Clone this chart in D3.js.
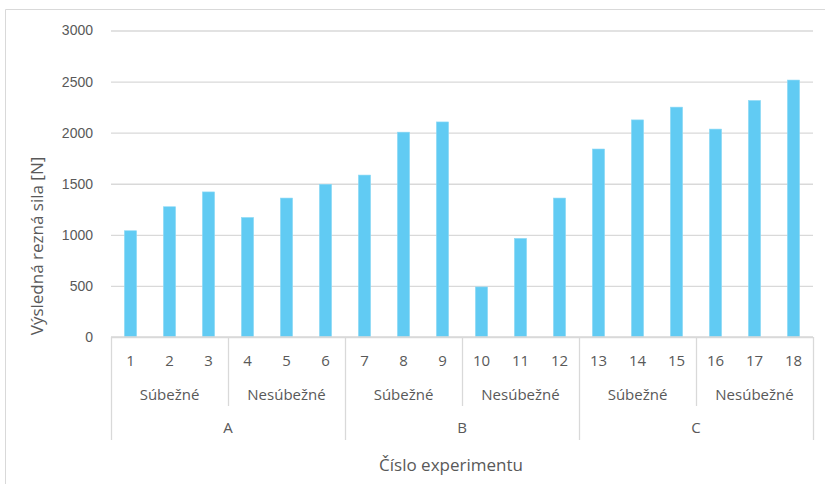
<!DOCTYPE html>
<html>
<head>
<meta charset="utf-8">
<script src="https://cdn.jsdelivr.net/npm/d3@7"></script>
<style>
  html, body { margin: 0; padding: 0; background: #fff; }
  svg { display: block; }
  .lbl { font-family: "Open Sans", "Noto Sans", sans-serif; fill: #595959; }
</style>
</head>
<body>
<svg id="chart" width="825" height="484"></svg>
<script>
// Experiment numbers, force values and the two grouping levels of the x axis
const categories = ["1","2","3","4","5","6","7","8","9","10","11","12","13","14","15","16","17","18"];
const values = [1040, 1275, 1420, 1170, 1360, 1495, 1585, 2005, 2105, 490, 965, 1360, 1840, 2125, 2250, 2035, 2315, 2515];
const subgroups = ["Súbežné", "Nesúbežné", "Súbežné", "Nesúbežné", "Súbežné", "Nesúbežné"];
const groups = ["A", "B", "C"];
const yTicks = [0, 500, 1000, 1500, 2000, 2500, 3000];
const yTitle = "Výsledná rezná sila [N]";
const xTitle = "Číslo experimentu";

const svg = d3.select("#chart");
const W = 825, H = 484;
const plot = { left: 111, right: 813, top: 30.5, bottom: 337 };
const gridColor = "#d9d9d9";
const barColor = "#61cbf3";

// frame of the chart area
svg.append("path")
  .attr("d", `M5.5,${H} V9.5 H${W}`)
  .attr("fill", "none").attr("stroke", "#d9d9d9").attr("stroke-width", 1);

const x = d3.scaleBand().domain(categories).range([plot.left, plot.right]).padding(0);
const y = d3.scaleLinear().domain([0, 3000]).range([plot.bottom, plot.top]);

// horizontal gridlines with value labels
const yAxis = d3.axisLeft(y).tickValues(yTicks).tickFormat(d3.format("d"))
  .tickSize(-(plot.right - plot.left)).tickPadding(18);
const gy = svg.append("g").attr("transform", `translate(${plot.left},0)`).call(yAxis);
gy.select(".domain").remove();
gy.selectAll(".tick line").attr("stroke", gridColor).attr("stroke-width", 1.3);
gy.selectAll(".tick text").attr("font-size", 14).attr("fill", "#595959")
  .attr("font-family", "Liberation Sans, Arial, sans-serif");

// bars: gap width about 219% of bar width
const barW = x.bandwidth() / 3.19;
svg.append("g").selectAll("rect").data(values).join("rect")
  .attr("x", (d, i) => x(categories[i]) + (x.bandwidth() - barW) / 2)
  .attr("y", d => y(d))
  .attr("width", barW)
  .attr("height", d => y(0) - y(d))
  .attr("fill", barColor)
  .attr("stroke", "#8fdaf6").attr("stroke-width", 0.6);

// category axis line
svg.append("line")
  .attr("x1", plot.left).attr("x2", plot.right)
  .attr("y1", plot.bottom).attr("y2", plot.bottom)
  .attr("stroke", gridColor).attr("stroke-width", 1.3);

const ax = svg.append("g");
const levelNum = 360.5, levelSub = 394.5, levelGrp = 428;
const subBottom = 406, grpBottom = 440;
const catFont = 15;

// experiment numbers
ax.selectAll("text.cat").data(categories).join("text")
  .attr("class", "lbl")
  .attr("x", d => x(d) + x.bandwidth() / 2)
  .attr("y", levelNum)
  .attr("dy", "0.35em")
  .attr("text-anchor", "middle")
  .attr("font-size", catFont)
  .text(d => d);

// sub-group labels spanning three experiments each
const subSize = categories.length / subgroups.length;
ax.selectAll("text.sub").data(subgroups).join("text")
  .attr("class", "lbl")
  .attr("x", (d, i) => {
    const a = x(categories[i * subSize]);
    const b = x(categories[(i + 1) * subSize - 1]) + x.bandwidth();
    return (a + b) / 2;
  })
  .attr("y", levelSub)
  .attr("dy", "0.35em")
  .attr("text-anchor", "middle")
  .attr("font-size", catFont)
  .text(d => d);

// group labels spanning six experiments each
const grpSize = categories.length / groups.length;
ax.selectAll("text.grp").data(groups).join("text")
  .attr("class", "lbl")
  .attr("x", (d, i) => {
    const a = x(categories[i * grpSize]);
    const b = x(categories[(i + 1) * grpSize - 1]) + x.bandwidth();
    return (a + b) / 2;
  })
  .attr("y", levelGrp)
  .attr("dy", "0.35em")
  .attr("text-anchor", "middle")
  .attr("font-size", catFont)
  .text(d => d);

// separators between sub-groups and groups
const subEdges = d3.range(subgroups.length + 1).map(i =>
  i < subgroups.length ? x(categories[i * subSize]) : plot.right);
subEdges.forEach((xe, i) => {
  const isGroupEdge = i % (grpSize / subSize) === 0;
  ax.append("line")
    .attr("x1", Math.round(xe) + 0.5).attr("x2", Math.round(xe) + 0.5)
    .attr("y1", plot.bottom).attr("y2", isGroupEdge ? grpBottom : subBottom)
    .attr("stroke", gridColor).attr("stroke-width", 1.3);
});

// axis titles
svg.append("text").attr("class", "lbl")
  .attr("transform", "translate(37,246) rotate(-90)")
  .attr("text-anchor", "middle").attr("dy", "0.35em")
  .attr("font-size", 17)
  .text(yTitle);

svg.append("text").attr("class", "lbl")
  .attr("x", 451).attr("y", 465)
  .attr("text-anchor", "middle").attr("dy", "0.35em")
  .attr("font-size", 17)
  .text(xTitle);
</script>
</body>
</html>
